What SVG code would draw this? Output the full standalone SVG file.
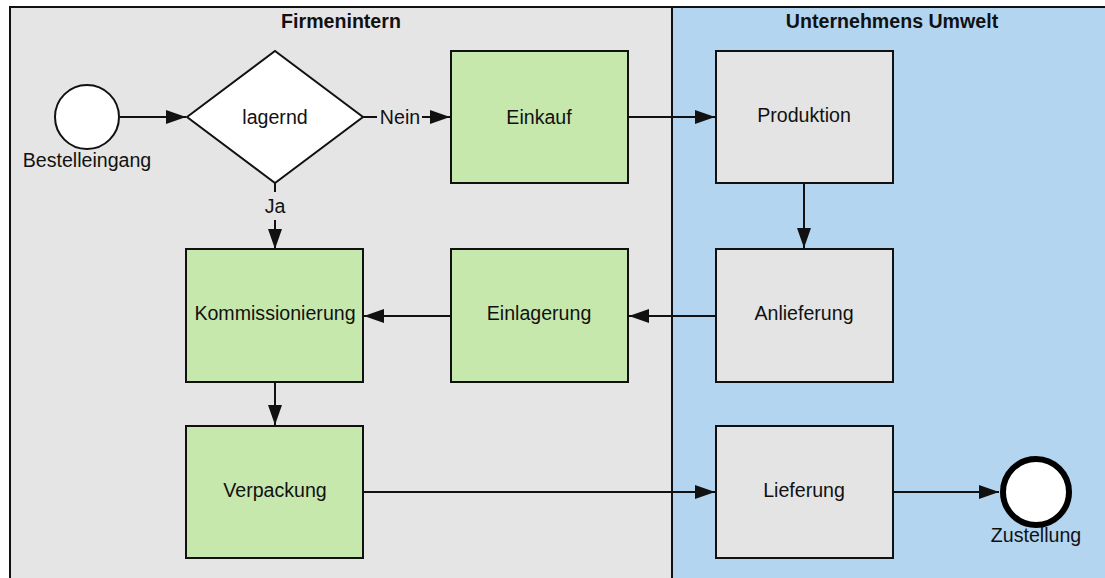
<svg xmlns="http://www.w3.org/2000/svg" width="1105" height="578" viewBox="0 0 1105 578">
<defs>
<style>
text{font-family:"Liberation Sans",Arial,sans-serif;font-size:19.6px;fill:#111;text-anchor:middle}
.h{font-weight:bold}
.box{stroke:#111;stroke-width:2}
.green{fill:#c7e8ad}
.gray{fill:#e4e4e4}
.c{stroke:#111;stroke-width:2;fill:none}
</style>
<marker id="a" viewBox="0 0 20 14" refX="20" refY="7" markerWidth="20" markerHeight="14" markerUnits="userSpaceOnUse" orient="auto"><path d="M0,0 L20,7 L0,14 Z" fill="#111"/></marker>
</defs>
<g id="lanes">
<rect x="10" y="7" width="662" height="580" fill="#e5e5e5" stroke="#111" stroke-width="2"/>
<rect x="672" y="7" width="440" height="580" fill="#b3d5f0" stroke="#111" stroke-width="2"/>
<text class="h" x="341" y="28">Firmenintern</text>
<text class="h" x="892" y="28">Unternehmens Umwelt</text>
</g>
<g id="connectors">
<line class="c" x1="120" y1="117" x2="186" y2="117" marker-end="url(#a)"/>
<line class="c" x1="363" y1="117" x2="377" y2="117"/>
<line class="c" x1="422" y1="117" x2="450" y2="117" marker-end="url(#a)"/>
<text x="400" y="124">Nein</text>
<line class="c" x1="275" y1="183" x2="275" y2="192"/>
<line class="c" x1="275" y1="220" x2="275" y2="249" marker-end="url(#a)"/>
<text x="275" y="213">Ja</text>
<line class="c" x1="628" y1="117" x2="715" y2="117" marker-end="url(#a)"/>
<line class="c" x1="804" y1="183" x2="804" y2="248" marker-end="url(#a)"/>
<line class="c" x1="716" y1="316" x2="629" y2="316" marker-end="url(#a)"/>
<line class="c" x1="451" y1="316" x2="364" y2="316" marker-end="url(#a)"/>
<line class="c" x1="275" y1="382" x2="275" y2="425" marker-end="url(#a)"/>
<line class="c" x1="363" y1="492" x2="715" y2="492" marker-end="url(#a)"/>
<line class="c" x1="893" y1="492" x2="999" y2="492" marker-end="url(#a)"/>
</g>
<g id="bestelleingang">
<circle cx="87" cy="117" r="32" fill="#fff" stroke="#111" stroke-width="2"/>
<text x="87" y="167">Bestelleingang</text>
</g>
<g id="lagernd">
<polygon points="187,117 275,51 363,117 275,183" fill="#fff" stroke="#111" stroke-width="2"/>
<text x="275" y="124">lagernd</text>
</g>
<g id="einkauf">
<rect class="box green" x="451" y="51" width="177" height="132"/>
<text x="539" y="124">Einkauf</text>
</g>
<g id="produktion">
<rect class="box gray" x="716" y="51" width="177" height="132"/>
<text x="804" y="122">Produktion</text>
</g>
<g id="kommissionierung">
<rect class="box green" x="186" y="249" width="177" height="133"/>
<text x="275" y="320">Kommissionierung</text>
</g>
<g id="einlagerung">
<rect class="box green" x="451" y="249" width="177" height="133"/>
<text x="539" y="320">Einlagerung</text>
</g>
<g id="anlieferung">
<rect class="box gray" x="716" y="249" width="177" height="133"/>
<text x="804" y="320">Anlieferung</text>
</g>
<g id="verpackung">
<rect class="box green" x="186" y="426" width="177" height="132"/>
<text x="275" y="497">Verpackung</text>
</g>
<g id="lieferung">
<rect class="box gray" x="716" y="426" width="177" height="132"/>
<text x="804" y="497">Lieferung</text>
</g>
<g id="zustellung">
<circle cx="1036" cy="492" r="33" fill="#fff" stroke="#000" stroke-width="6"/>
<text x="1036" y="542">Zustellung</text>
</g>
</svg>
